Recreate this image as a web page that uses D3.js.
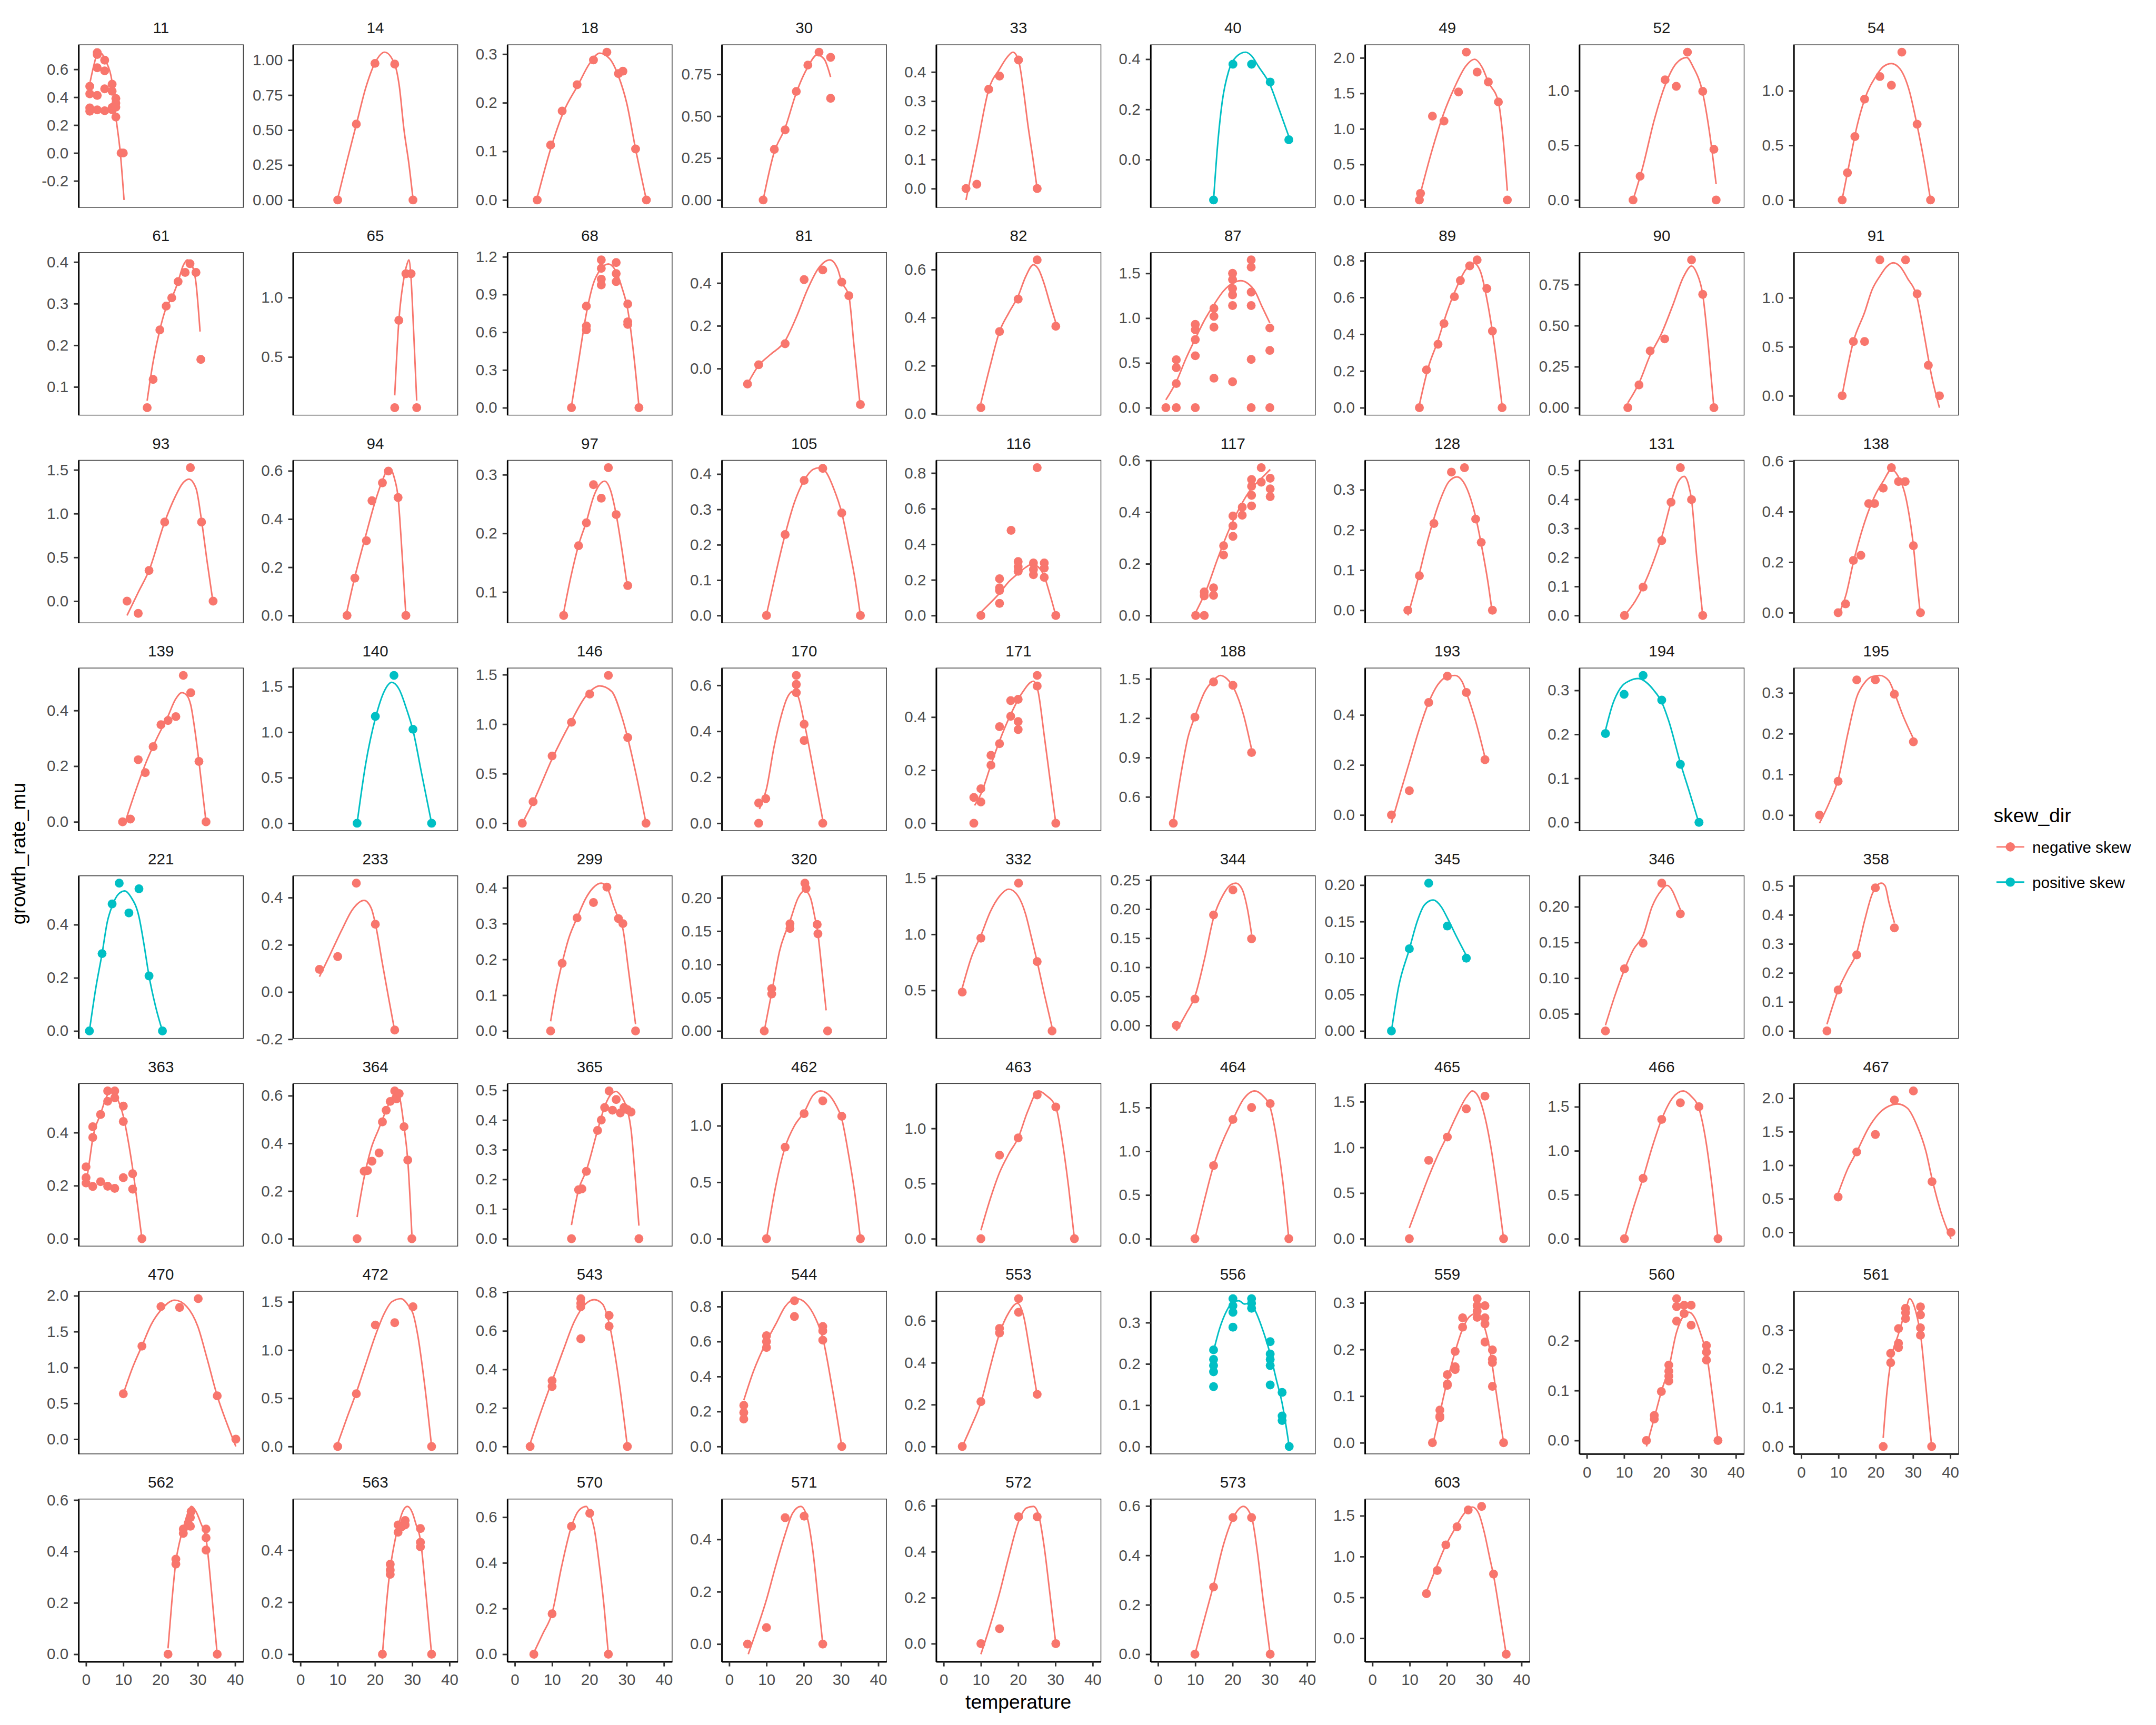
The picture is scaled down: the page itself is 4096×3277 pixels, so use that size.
<!DOCTYPE html>
<html><head><meta charset="utf-8">
<script src="https://cdn.jsdelivr.net/npm/d3@7"></script>
<style>html,body{margin:0;padding:0;background:#fff}svg{display:block}</style>
</head><body>
<script>
// ---------------- DATA ----------------
const panelIds = [11,14,18,30,33,40,49,52,54,
  61,65,68,81,82,87,89,90,91,
  93,94,97,105,116,117,128,131,138,
  139,140,146,170,171,188,193,194,195,
  221,233,299,320,332,344,345,346,358,
  363,364,365,462,463,464,465,466,467,
  470,472,543,544,553,556,559,560,561,
  562,563,570,571,572,573,603];

const positiveSkewIds = [40,140,194,221,345,556];
const skewLevels = ["negative skew","positive skew"];
const xTickValues = [0,10,20,30,40];

const panelTicks = [
  [-0.2,0,0.2,0.4,0.6],[0,0.25,0.5,0.75,1],[0,0.1,0.2,0.3],[0,0.25,0.5,0.75],[0,0.1,0.2,0.3,0.4],[0,0.2,0.4],[0,0.5,1,1.5,2],[0,0.5,1],[0,0.5,1],
  [0.1,0.2,0.3,0.4],[0.5,1],[0,0.3,0.6,0.9,1.2],[0,0.2,0.4],[0,0.2,0.4,0.6],[0,0.5,1,1.5],[0,0.2,0.4,0.6,0.8],[0,0.25,0.5,0.75],[0,0.5,1],
  [0,0.5,1,1.5],[0,0.2,0.4,0.6],[0.1,0.2,0.3],[0,0.1,0.2,0.3,0.4],[0,0.2,0.4,0.6,0.8],[0,0.2,0.4,0.6],[0,0.1,0.2,0.3],[0,0.1,0.2,0.3,0.4,0.5],[0,0.2,0.4,0.6],
  [0,0.2,0.4],[0,0.5,1,1.5],[0,0.5,1,1.5],[0,0.2,0.4,0.6],[0,0.2,0.4],[0.6,0.9,1.2,1.5],[0,0.2,0.4],[0,0.1,0.2,0.3],[0,0.1,0.2,0.3],
  [0,0.2,0.4],[-0.2,0,0.2,0.4],[0,0.1,0.2,0.3,0.4],[0,0.05,0.1,0.15,0.2],[0.5,1,1.5],[0,0.05,0.1,0.15,0.2,0.25],[0,0.05,0.1,0.15,0.2],[0.05,0.1,0.15,0.2],[0,0.1,0.2,0.3,0.4,0.5],
  [0,0.2,0.4],[0,0.2,0.4,0.6],[0,0.1,0.2,0.3,0.4,0.5],[0,0.5,1],[0,0.5,1],[0,0.5,1,1.5],[0,0.5,1,1.5],[0,0.5,1,1.5],[0,0.5,1,1.5,2],
  [0,0.5,1,1.5,2],[0,0.5,1,1.5],[0,0.2,0.4,0.6,0.8],[0,0.2,0.4,0.6,0.8],[0,0.2,0.4,0.6],[0,0.1,0.2,0.3],[0,0.1,0.2,0.3],[0,0.1,0.2],[0,0.1,0.2,0.3],
  [0,0.2,0.4,0.6],[0,0.2,0.4],[0,0.2,0.4,0.6],[0,0.2,0.4],[0,0.2,0.4,0.6],[0,0.2,0.4,0.6],[0,0.5,1,1.5]
];

const panelPoints = [
  /*11*/[[1,0.478],[1,0.424],[1,0.323],[1,0.30],[3,0.72],[3,0.706],[3,0.611],[3,0.413],[3,0.309],[5,0.666],[5,0.589],[5,0.46],[5,0.303],[7,0.493],[7,0.443],[7,0.326],[7,0.31],[8,0.39],[8,0.358],[8,0.329],[8,0.258],[9.4,0],[10,0]],
  /*14*/[[10,0],[15,0.543],[20,0.977],[25.3,0.972],[30.2,0]],
  /*18*/[[6,0],[9.6,0.113],[12.7,0.183],[16.7,0.237],[21.1,0.288],[24.7,0.304],[27.8,0.26],[29,0.265],[32.4,0.105],[35.3,0]],
  /*30*/[[9.1,0],[12.1,0.302],[15,0.418],[18,0.648],[21.1,0.805],[24.1,0.882],[27.2,0.851],[27.2,0.607]],
  /*33*/[[6,0],[8.9,0.015],[12.1,0.341],[15,0.386],[20.1,0.441],[25.1,0]],
  /*40*/[[14.9,-0.161],[20.1,0.38],[25.1,0.38],[30.1,0.309],[35.1,0.079]],
  /*49*/[[12.6,0],[12.9,0.093],[16.1,1.18],[19.2,1.11],[23.1,1.52],[25.2,2.08],[28.1,1.8],[31.1,1.66],[33.8,1.38],[36.2,0]],
  /*52*/[[12.4,0],[14.3,0.217],[21,1.1],[24,1.04],[27,1.353],[31.1,0.995],[34.1,0.464],[34.7,0]],
  /*54*/[[11,0],[12.4,0.249],[14.4,0.58],[17,0.923],[21.1,1.13],[24.2,1.05],[27,1.353],[31.1,0.693],[34.7,0]],
  /*61*/[[16.4,0.05],[18,0.118],[19.8,0.237],[21.5,0.294],[23,0.314],[24.7,0.353],[26.6,0.375],[27.9,0.396],[29.5,0.375],[30.8,0.166]],
  /*65*/[[25.3,0.073],[26.4,0.808],[28.3,1.2],[29.7,1.2],[31.2,0.073]],
  /*68*/[[15.2,0],[19.2,0.808],[19.2,0.65],[19.2,0.62],[23.2,1.175],[23.2,1.108],[23.2,1.022],[23.2,0.976],[27.2,1.154],[27.2,1.066],[27.2,1.003],[30.3,0.825],[30.3,0.683],[30.3,0.662],[33.3,0]],
  /*81*/[[4.9,-0.072],[7.9,0.018],[15,0.116],[20.1,0.416],[25.1,0.461],[30.2,0.404],[32.1,0.341],[35.2,-0.168]],
  /*82*/[[10,0.025],[15,0.342],[20,0.477],[25.1,0.64],[30.1,0.364]],
  /*87*/[[2.1,0],[4.9,0.535],[4.9,0.447],[4.9,0.27],[4.9,0],[10,0.93],[10,0.87],[10,0.76],[10,0.58],[10,0],[15,1.11],[15,1.02],[15,0.9],[15,0.33],[20,1.5],[20,1.43],[20,1.33],[20,1.26],[20,1.14],[20,0.29],[25,1.65],[25,1.57],[25,1.29],[25,1.14],[25,0.54],[25,0],[30,0.89],[30,0.64],[30,0]],
  /*89*/[[12.6,0],[14.5,0.206],[17.6,0.345],[19.2,0.458],[22,0.604],[23.6,0.692],[26.1,0.772],[28.1,0.804],[30.7,0.648],[32.2,0.417],[34.8,0]],
  /*90*/[[11,0],[14,0.139],[17,0.346],[20.9,0.419],[28.1,0.9],[31.1,0.69],[34.1,0]],
  /*91*/[[11,0],[14,0.554],[17,0.554],[21.1,1.386],[28,1.386],[31.1,1.04],[34.1,0.311],[37.1,0]],
  /*93*/[[11,0],[14,-0.14],[16.9,0.35],[21.1,0.904],[28,1.525],[31,0.904],[34.1,0]],
  /*94*/[[12.5,0],[14.6,0.155],[17.7,0.31],[19.2,0.476],[22,0.55],[23.6,0.599],[26.2,0.489],[28.3,0]],
  /*97*/[[13.1,0.06],[17.1,0.179],[19.2,0.218],[21.1,0.283],[23.2,0.26],[25.1,0.312],[27.2,0.232],[30.3,0.111]],
  /*105*/[[10,0],[15,0.229],[20.1,0.382],[25.1,0.416],[30.2,0.29],[35.2,0]],
  /*116*/[[10,0],[15,0.068],[15,0.14],[15,0.155],[15,0.206],[18.1,0.478],[20,0.248],[20,0.273],[20,0.303],[24.1,0.229],[24.1,0.258],[24.1,0.295],[25.1,0.83],[27,0.214],[27,0.266],[27,0.295],[30.1,0]],
  /*117*/[[10.1,0],[12.4,0],[12.4,0.091],[12.4,0.076],[14.9,0.107],[14.9,0.078],[17.6,0.27],[17.6,0.234],[20.1,0.385],[20.1,0.347],[20.1,0.306],[22.6,0.419],[22.6,0.388],[25.1,0.465],[25.1,0.424],[25.1,0.526],[25.1,0.5],[27.7,0.572],[27.7,0.516],[30.1,0.531],[30.1,0.49],[30.1,0.46]],
  /*128*/[[9.5,0],[12.6,0.086],[16.5,0.216],[21.2,0.344],[24.7,0.355],[27.7,0.227],[29.2,0.169],[32.2,0]],
  /*131*/[[10.1,0],[15.1,0.098],[20.1,0.258],[22.6,0.39],[25.1,0.509],[28.1,0.399],[31.1,0]],
  /*138*/[[9.9,0],[11.9,0.035],[14,0.207],[16,0.227],[18.1,0.432],[19.7,0.432],[22,0.493],[24.2,0.574],[26.1,0.519],[27.9,0.519],[30.1,0.265],[32,0]],
  /*139*/[[9.8,0],[11.9,0.01],[14,0.223],[15.9,0.177],[18,0.27],[20.1,0.349],[22,0.364],[24.1,0.378],[26.1,0.526],[28.1,0.464],[30.3,0.217],[32.2,0]],
  /*140*/[[15.2,0],[20.1,1.173],[25.1,1.623],[30.2,1.032],[35.2,0]],
  /*146*/[[2,0],[4.9,0.217],[10,0.679],[15.2,1.019],[20.1,1.304],[25.1,1.492],[30.3,0.864],[35.2,0]],
  /*170*/[[7.9,0],[7.9,0.088],[9.8,0.107],[18,0.643],[18,0.604],[18,0.568],[20.1,0.431],[20.1,0.36],[25.1,0]],
  /*171*/[[8.1,0],[8.1,0.097],[10,0.13],[10,0.08],[12.7,0.219],[12.7,0.256],[15,0.3],[15,0.364],[18,0.403],[18,0.462],[20,0.383],[20,0.353],[20,0.467],[25.1,0.557],[25.1,0.517],[30.1,0]],
  /*188*/[[4.1,0.399],[9.9,1.208],[14.9,1.476],[20.1,1.45],[25.1,0.938]],
  /*193*/[[5.1,0],[9.9,0.097],[15.1,0.45],[20.1,0.555],[25.2,0.49],[30.2,0.221]],
  /*194*/[[5,0.202],[10,0.291],[15.1,0.334],[20.1,0.278],[25.1,0.132],[30.1,0]],
  /*195*/[[4.9,0],[9.9,0.083],[14.9,0.332],[19.9,0.332],[25,0.297],[30.1,0.18]],
  /*221*/[[0.9,0],[4.3,0.291],[7,0.478],[8.9,0.556],[11.5,0.444],[14.2,0.535],[16.9,0.207],[20.5,0]],
  /*233*/[[5.1,0.096],[10,0.15],[15,0.461],[20.1,0.287],[25.3,-0.161]],
  /*299*/[[9.6,0],[12.7,0.189],[16.7,0.316],[21.1,0.359],[24.7,0.402],[27.8,0.314],[29,0.3],[32.4,0]],
  /*320*/[[9.4,0],[11.4,0.0635],[11.4,0.0556],[16.3,0.161],[16.3,0.154],[20.3,0.222],[20.6,0.214],[23.6,0.16],[23.8,0.146],[26.4,0]],
  /*332*/[[5,0.485],[10,0.966],[20.1,1.456],[25.1,0.757],[29.1,0.138]],
  /*344*/[[4.9,0],[9.9,0.0454],[14.9,0.19],[20.1,0.233],[25.1,0.149]],
  /*345*/[[5.1,0],[9.9,0.1127],[15.1,0.2026],[20.1,0.1439],[25.2,0.0998]],
  /*346*/[[5,0.026],[10.1,0.113],[15.1,0.149],[20.1,0.233],[25.1,0.19]],
  /*358*/[[6.9,0],[9.9,0.141],[14.9,0.262],[19.9,0.493],[25,0.355]],
  /*363*/[[0,0.271],[0,0.23],[0,0.21],[1.8,0.382],[1.8,0.422],[1.8,0.197],[3.9,0.468],[3.9,0.215],[5.8,0.518],[5.8,0.557],[5.8,0.198],[7.7,0.531],[7.7,0.557],[7.7,0.19],[10,0.5],[10,0.442],[10,0.23],[12.5,0.245],[12.5,0.187],[15,0]],
  /*364*/[[15.2,0],[17.1,0.283],[18,0.286],[19.2,0.325],[21.1,0.36],[22,0.49],[23,0.539],[24.1,0.576],[25.3,0.62],[25.8,0.587],[26.5,0.609],[27.8,0.47],[28.8,0.33],[29.9,0]],
  /*365*/[[15.2,0],[17.1,0.165],[18,0.168],[19.2,0.227],[22.2,0.365],[23.2,0.4],[24.1,0.442],[25.3,0.498],[26.2,0.433],[27.2,0.469],[28.3,0.424],[29.3,0.442],[30.2,0.435],[31.2,0.427],[33.3,0]],
  /*462*/[[10,0],[15,0.811],[20.1,1.107],[25.1,1.22],[30.2,1.084],[35.2,0]],
  /*463*/[[10,0],[15,0.758],[20,0.914],[25.1,1.304],[30.1,1.194],[35.1,0]],
  /*464*/[[9.9,0],[14.9,0.836],[20.1,1.364],[25.1,1.5],[30.1,1.545],[35.1,0]],
  /*465*/[[9.9,0],[15.1,0.858],[20.1,1.113],[25.2,1.422],[30.2,1.561],[35.2,0]],
  /*466*/[[10.1,0],[15.1,0.687],[20.1,1.356],[25.1,1.545],[30.1,1.5],[35.2,0]],
  /*467*/[[9.9,0.526],[14.9,1.198],[19.9,1.458],[25,1.972],[30.1,2.107],[35.1,0.755],[40.2,0]],
  /*470*/[[10,0.633],[15,1.298],[20.1,1.849],[25.1,1.837],[30.1,1.959],[35.2,0.604],[40.2,0]],
  /*472*/[[10,0],[15,0.547],[20.1,1.26],[25.3,1.284],[30.2,1.449],[35.2,0]],
  /*543*/[[4.1,0],[10,0.341],[10,0.311],[17.7,0.767],[17.7,0.743],[17.7,0.725],[17.7,0.559],[25.3,0.68],[25.3,0.624],[30.2,0]],
  /*544*/[[3.9,0.235],[3.9,0.194],[3.9,0.157],[10,0.633],[10,0.6],[10,0.566],[17.5,0.833],[17.5,0.743],[25.1,0.686],[25.1,0.661],[25.1,0.608],[30.2,0]],
  /*553*/[[5,0],[10,0.214],[15,0.542],[15,0.564],[20.1,0.706],[20.1,0.641],[25.1,0.249]],
  /*556*/[[14.9,0.234],[14.9,0.211],[14.9,0.196],[14.9,0.181],[14.9,0.145],[20.1,0.358],[20.1,0.341],[20.1,0.325],[20.1,0.289],[25.1,0.358],[25.1,0.347],[25.1,0.335],[30.1,0.254],[30.1,0.224],[30.1,0.211],[30.1,0.196],[30.1,0.149],[33.3,0.131],[33.3,0.074],[33.3,0.063],[35.2,0]],
  /*559*/[[16.1,0],[18.1,0.07],[18.1,0.054],[18.1,0.057],[20.1,0.146],[20.1,0.123],[20.1,0.126],[22.2,0.196],[22.2,0.163],[22.2,0.157],[24.2,0.268],[24.2,0.248],[28.1,0.309],[28.1,0.294],[28.1,0.282],[28.1,0.269],[30.2,0.294],[30.2,0.268],[30.2,0.255],[30.2,0.216],[32.2,0.199],[32.2,0.179],[32.2,0.172],[32.2,0.121],[35.2,0]],
  /*560*/[[16,0],[18.1,0.05],[18.1,0.043],[20,0.098],[22,0.151],[22,0.139],[22,0.129],[22,0.119],[24.1,0.284],[24.1,0.268],[24.1,0.239],[26.1,0.271],[26.1,0.254],[28,0.271],[28,0.231],[32.1,0.19],[32.1,0.177],[32.1,0.161],[35.2,0]],
  /*561*/[[22,0],[24,0.24],[24,0.216],[26.1,0.304],[26.1,0.266],[26.1,0.255],[28,0.356],[28,0.345],[28,0.33],[32,0.36],[32,0.339],[32,0.306],[32,0.287],[35,0]],
  /*562*/[[22,0],[24.1,0.37],[24.1,0.351],[26.1,0.487],[26.1,0.47],[27.4,0.509],[28,0.532],[28,0.498],[28.2,0.555],[32.2,0.487],[32.2,0.453],[32.2,0.405],[35.2,0]],
  /*563*/[[22,0],[24.1,0.346],[24.1,0.324],[24.1,0.307],[26.2,0.497],[26.2,0.469],[27.2,0.49],[28.1,0.514],[28.1,0.497],[32.2,0.483],[32.2,0.43],[32.2,0.413],[35.2,0]],
  /*570*/[[5.1,0],[10,0.177],[15.2,0.56],[20.1,0.617],[25.1,0]],
  /*571*/[[4.9,0],[10,0.063],[15,0.483],[20.1,0.489],[25.1,0]],
  /*572*/[[10,0],[15,0.065],[20.1,0.552],[25.1,0.552],[30.1,0]],
  /*573*/[[9.9,0],[14.9,0.272],[20.1,0.553],[25.1,0.553],[30.1,0]],
  /*603*/[[14.5,0.546],[17.4,0.829],[19.7,1.143],[22.7,1.364],[25.7,1.571],[29.3,1.614],[32.5,0.786],[35.9,-0.196]]
];

const panelCurves = [
  /*11*/[[1.1,0.51],[2.1,0.63],[2.9,0.705],[3.5,0.723],[4.4,0.707],[5.3,0.66],[6.9,0.523],[8,0.26],[9.2,0],[10.2,-0.337]],
  /*14*/[[10,0.01],[12.5,0.28],[15,0.54],[17.5,0.8],[20,0.98],[22.6,1.057],[25.3,0.97],[26.5,0.82],[27.8,0.5],[29.1,0.26],[30.2,0.01]],
  /*18*/[[6,0.005],[10,0.115],[13,0.18],[17,0.237],[20,0.28],[22.8,0.302],[25.5,0.29],[27.8,0.255],[30,0.2],[32.4,0.105],[35.3,0]],
  /*30*/[[9.1,0],[12,0.28],[15,0.43],[18,0.64],[21,0.79],[23.6,0.866],[25.5,0.84],[27.2,0.734]],
  /*33*/[[6,-0.039],[9,0.147],[12.1,0.34],[15,0.41],[17,0.45],[18.6,0.468],[20.1,0.44],[21.5,0.33],[22.6,0.22],[24,0.1],[25.1,0]],
  /*40*/[[14.9,-0.161],[16,0.06],[17.2,0.228],[19,0.355],[21,0.41],[23.5,0.428],[25,0.415],[27,0.37],[30,0.3],[32.5,0.2],[35.1,0.092]],
  /*49*/[[12.6,0.037],[16,0.7],[19,1.2],[22,1.58],[25,1.88],[27.4,1.98],[29.5,1.86],[31.1,1.66],[33.8,1.38],[35,0.9],[36.2,0.13]],
  /*52*/[[12.4,0],[15,0.3],[18,0.72],[21,1.05],[24,1.25],[26.8,1.304],[28.5,1.22],[31.1,0.98],[33,0.6],[34.7,0.145]],
  /*54*/[[11,0.01],[13,0.35],[15,0.68],[17,0.92],[20,1.13],[22,1.22],[24.2,1.249],[26.5,1.2],[29,1.0],[31,0.7],[33,0.35],[34.7,0]],
  /*61*/[[16.4,0.067],[18,0.16],[19.8,0.237],[21.5,0.29],[23,0.314],[24.7,0.353],[26,0.39],[27.2,0.405],[28.3,0.395],[29.5,0.35],[30.6,0.233]],
  /*65*/[[25.3,0.177],[26.4,0.8],[27.7,1.15],[28.6,1.28],[29.1,1.316],[29.6,1.2],[30.4,0.7],[31.2,0.133]],
  /*68*/[[15.2,0.013],[17,0.35],[19.2,0.75],[21,0.98],[23,1.1],[25.1,1.143],[27.2,1.08],[28.8,0.95],[30.3,0.78],[31.8,0.45],[33.3,0.013]],
  /*81*/[[4.9,-0.072],[7.9,0.015],[11,0.065],[15,0.13],[18,0.24],[21,0.37],[24,0.47],[27,0.508],[29,0.47],[30.2,0.404],[32.1,0.34],[33.5,0.104],[35.2,-0.183]],
  /*82*/[[10,0.044],[12.5,0.2],[15,0.342],[17.5,0.42],[20,0.49],[22,0.57],[24.1,0.62],[25.5,0.6],[27,0.54],[28.5,0.46],[30.1,0.379]],
  /*87*/[[2.1,0.088],[5,0.3],[7.5,0.55],[10,0.77],[12.5,0.98],[15,1.15],[17.5,1.3],[20,1.39],[22.2,1.418],[24,1.39],[26,1.3],[28,1.12],[30,0.947]],
  /*89*/[[12.6,0.016],[15,0.22],[17.5,0.36],[20,0.52],[22.5,0.65],[25,0.75],[27.2,0.787],[29,0.74],[31,0.56],[33,0.3],[34.8,0.01]],
  /*90*/[[11,0.03],[14,0.15],[17,0.32],[20,0.45],[23,0.62],[26,0.8],[28.1,0.863],[29.5,0.82],[31.1,0.69],[32.6,0.38],[34.1,0]],
  /*91*/[[11,0.01],[14,0.554],[17,0.85],[19,1.08],[21.1,1.22],[23,1.32],[24.7,1.357],[26.5,1.32],[28.5,1.2],[31.1,1.0],[33,0.62],[35,0.2],[37.1,-0.122]],
  /*93*/[[11,-0.164],[14,0.1],[16.9,0.35],[21.1,0.904],[24,1.2],[26,1.35],[27.6,1.394],[29.5,1.29],[31,0.92],[32.5,0.45],[34.1,-0.02]],
  /*94*/[[12.5,0.018],[14.6,0.16],[17.5,0.33],[20,0.47],[22,0.56],[23.8,0.613],[25.2,0.57],[26.2,0.49],[27.3,0.25],[28.3,0]],
  /*97*/[[13.1,0.065],[15,0.125],[17.1,0.18],[19.2,0.22],[21.1,0.262],[22.6,0.282],[24.1,0.289],[25.6,0.275],[27.2,0.232],[28.8,0.17],[30.3,0.105]],
  /*105*/[[10,0.003],[12.5,0.12],[15,0.229],[17.5,0.32],[20.1,0.382],[22.5,0.413],[24.2,0.418],[26,0.405],[28,0.36],[30.2,0.29],[32,0.2],[33.8,0.1],[35.2,0]],
  /*116*/[[10,0.018],[12.5,0.07],[15,0.125],[17.5,0.19],[20,0.236],[22,0.27],[23.7,0.288],[25.5,0.27],[27,0.22],[28.5,0.12],[30.1,0]],
  /*117*/[[10.1,0.012],[13,0.1],[16,0.22],[19,0.33],[22,0.42],[25,0.49],[27.7,0.53],[30.1,0.565]],
  /*128*/[[9.5,-0.013],[12,0.07],[15,0.18],[18,0.27],[20.5,0.32],[22.7,0.332],[25,0.31],[27.5,0.24],[29.5,0.15],[31,0.07],[32.2,-0.009]],
  /*131*/[[10.1,0],[13,0.05],[15.1,0.1],[18,0.19],[20.1,0.27],[22.6,0.39],[24.5,0.46],[26.1,0.479],[27.3,0.45],[28.1,0.399],[29.5,0.2],[31.1,0]],
  /*138*/[[9.9,-0.011],[12,0.07],[14,0.2],[16,0.31],[18,0.4],[20,0.47],[22,0.52],[24.2,0.566],[26,0.54],[28.3,0.44],[30.1,0.265],[31,0.13],[32,-0.011]],
  /*139*/[[10.4,-0.005],[13,0.1],[16,0.21],[19,0.3],[22,0.38],[24,0.44],[25.7,0.464],[27,0.455],[28.1,0.42],[29.2,0.33],[30.3,0.217],[32.2,0]],
  /*140*/[[15.2,0],[17.5,0.65],[20.1,1.15],[22.5,1.45],[24.5,1.547],[26.5,1.47],[28.5,1.25],[30.2,1.02],[32.5,0.55],[35.2,0]],
  /*146*/[[2,0],[5,0.22],[10,0.65],[15,1.02],[19,1.28],[22.8,1.386],[26,1.33],[28.5,1.1],[30.3,0.86],[32.5,0.5],[35.2,0]],
  /*170*/[[8.1,0.062],[10,0.15],[12,0.33],[14,0.47],[15.5,0.544],[17.1,0.574],[18.5,0.55],[20.1,0.44],[22.5,0.24],[25.1,0.014]],
  /*171*/[[8.3,0.067],[10,0.11],[12.7,0.22],[15,0.31],[18,0.41],[21,0.49],[24.1,0.535],[25.3,0.5],[27,0.33],[28.5,0.17],[30.1,0]],
  /*188*/[[4.1,0.411],[6,0.75],[8,1.05],[10,1.22],[12.5,1.4],[14.9,1.49],[16.7,1.526],[18.5,1.5],[20.5,1.42],[23,1.22],[25.1,0.964]],
  /*193*/[[5.1,-0.033],[7.5,0.09],[9.9,0.21],[12.5,0.34],[15.1,0.45],[17.5,0.52],[20,0.553],[22.2,0.558],[24,0.535],[25.2,0.49],[27.7,0.375],[30.2,0.231]],
  /*194*/[[5,0.209],[7,0.27],[9,0.305],[11.5,0.322],[13.8,0.327],[16,0.318],[18,0.3],[20,0.275],[22,0.23],[25.1,0.135],[27.5,0.07],[30.1,-0.002]],
  /*195*/[[4.9,-0.02],[7.5,0.03],[9.9,0.087],[12.5,0.2],[14.9,0.29],[17,0.325],[19,0.34],[21.1,0.343],[23.5,0.33],[25,0.3],[27.5,0.24],[30.1,0.188]],
  /*221*/[[0.9,0],[2.6,0.16],[4.3,0.291],[5.7,0.41],[7,0.47],[8.7,0.515],[10.4,0.527],[12,0.505],[14.2,0.43],[15.5,0.33],[16.9,0.207],[18.7,0.09],[20.5,0]],
  /*233*/[[5.1,0.065],[8,0.16],[11,0.26],[14,0.35],[17.1,0.388],[19,0.355],[20.1,0.29],[22,0.12],[23.6,-0.02],[25.3,-0.165]],
  /*299*/[[9.6,0.027],[11,0.11],[12.7,0.19],[14.5,0.26],[16.7,0.316],[19,0.37],[21,0.4],[23.2,0.413],[25,0.395],[26.5,0.35],[27.8,0.314],[29,0.285],[30.5,0.17],[32.4,0.019]],
  /*320*/[[9.4,0],[11.4,0.058],[13.5,0.12],[16.3,0.165],[18.5,0.2],[20.3,0.211],[21.8,0.2],[23,0.17],[23.7,0.15],[24.9,0.09],[26,0.031]],
  /*332*/[[5,0.522],[7.5,0.8],[10,0.99],[12.5,1.2],[15,1.34],[17.5,1.403],[20,1.34],[22,1.18],[23.5,0.98],[25.1,0.757],[27,0.47],[29.1,0.17]],
  /*344*/[[4.9,-0.0095],[7.5,0.02],[9.9,0.05],[12.5,0.115],[14.9,0.185],[17.5,0.225],[19.5,0.242],[20.9,0.2446],[22.5,0.235],[24,0.2],[25.1,0.157]],
  /*345*/[[5.1,0],[7,0.06],[9.9,0.112],[12,0.15],[14,0.173],[16.3,0.1795],[18.5,0.17],[20.1,0.155],[22.5,0.13],[25.2,0.1035]],
  /*346*/[[5,0.034],[7.5,0.075],[10.1,0.112],[12.5,0.14],[15.1,0.16],[17.5,0.2],[20,0.223],[21.5,0.23],[23,0.222],[24,0.21],[25.1,0.196]],
  /*358*/[[6.9,0.023],[9.9,0.14],[12.5,0.21],[14.9,0.27],[17,0.38],[19,0.47],[20.3,0.5],[21.5,0.509],[22.5,0.5],[23.5,0.445],[25,0.373]],
  /*363*/[[0.1,0.215],[1,0.3],[1.8,0.378],[3.9,0.47],[5.5,0.535],[6.6,0.556],[8.3,0.53],[10,0.462],[11.3,0.37],[12.5,0.265],[13.8,0.13],[15,0]],
  /*364*/[[15.2,0.091],[17,0.25],[19,0.38],[21,0.46],[22,0.5],[23,0.54],[24.5,0.59],[25.8,0.62],[26.8,0.58],[27.8,0.47],[28.8,0.33],[29.9,0.019]],
  /*365*/[[15.2,0.046],[17.1,0.165],[19.2,0.23],[22.2,0.365],[24.1,0.445],[25.7,0.485],[27.2,0.496],[28.3,0.485],[29.3,0.464],[30.3,0.43],[31.2,0.367],[32.2,0.224],[33.3,0.044]],
  /*462*/[[10,0],[12.5,0.47],[15,0.811],[17.5,1.0],[20.1,1.12],[22.5,1.27],[24.5,1.308],[26.5,1.28],[28.5,1.19],[30.2,1.06],[32,0.75],[33.7,0.4],[35.2,0]],
  /*463*/[[10,0.077],[12.5,0.36],[15,0.6],[17.5,0.77],[20,0.914],[22.5,1.15],[25.5,1.34],[27.5,1.3],[30.1,1.194],[32,0.85],[33.6,0.45],[35.1,0]],
  /*464*/[[9.9,0],[12.5,0.45],[14.9,0.836],[17.5,1.13],[20.1,1.364],[23,1.6],[25.9,1.69],[28,1.64],[30.1,1.5],[32,1.1],[33.5,0.65],[35.1,0]],
  /*465*/[[9.9,0.116],[12.5,0.4],[15.1,0.68],[17.6,0.92],[20.1,1.13],[22.6,1.35],[25.2,1.55],[26.8,1.618],[28.5,1.55],[30.2,1.33],[32,0.95],[33.6,0.5],[35.2,0]],
  /*466*/[[10.1,0],[12.5,0.35],[15.1,0.69],[17.6,1.05],[20.1,1.36],[23,1.6],[25.9,1.68],[28,1.62],[30.1,1.48],[32,1.1],[33.6,0.6],[35.2,0]],
  /*467*/[[9.9,0.577],[12.5,0.95],[14.9,1.2],[18,1.55],[21,1.78],[23.5,1.88],[25.9,1.913],[28.5,1.85],[31,1.6],[33.5,1.2],[35.1,0.8],[37.5,0.3],[40.2,-0.095]],
  /*470*/[[10,0.633],[12.5,1.0],[15,1.3],[17.5,1.6],[20.1,1.8],[23.8,1.939],[27,1.85],[30,1.57],[32.5,1.12],[35.2,0.604],[37.8,0.22],[40.2,-0.102]],
  /*472*/[[10,0.03],[12.5,0.3],[15,0.56],[17.5,0.85],[20.1,1.15],[22.5,1.38],[24.5,1.5],[27,1.533],[29,1.46],[30.2,1.38],[31.5,1.15],[33.3,0.65],[35.2,0]],
  /*543*/[[4.1,0.015],[7,0.18],[10,0.34],[13,0.5],[16,0.65],[19,0.74],[21.3,0.762],[23.5,0.74],[25.3,0.64],[27.8,0.36],[30.2,0]],
  /*544*/[[3.9,0.264],[6.5,0.43],[10,0.6],[12.5,0.7],[15,0.8],[18.1,0.845],[20.5,0.82],[23,0.74],[25.1,0.62],[27.5,0.35],[30.2,0]],
  /*553*/[[5,0],[7.5,0.1],[10,0.21],[12.5,0.38],[15,0.54],[17.5,0.64],[19.8,0.684],[21.5,0.62],[23,0.47],[25.1,0.245]],
  /*556*/[[14.9,0.231],[16.5,0.285],[18.5,0.33],[20.1,0.35],[21.7,0.353],[23.2,0.345],[24.5,0.347],[26,0.33],[28,0.285],[30.1,0.224],[31.8,0.16],[33.3,0.105],[35.2,0]],
  /*559*/[[16.1,-0.008],[18,0.06],[20,0.13],[22,0.19],[24,0.24],[26,0.27],[28.1,0.278],[30,0.25],[31.5,0.2],[33,0.12],[35.2,0]],
  /*560*/[[16,-0.012],[18.1,0.045],[20,0.098],[22,0.145],[24,0.215],[26,0.25],[27.4,0.257],[29,0.245],[30.5,0.215],[32.2,0.17],[33.7,0.09],[35.2,0]],
  /*561*/[[22,0.022],[23,0.14],[24,0.218],[26.1,0.29],[28,0.35],[29.1,0.381],[30.2,0.365],[31.2,0.33],[32,0.29],[33.5,0.15],[35,0]],
  /*562*/[[22,0.023],[23,0.2],[24.1,0.36],[25,0.43],[26.1,0.49],[27.2,0.545],[28.3,0.575],[29.5,0.555],[30.8,0.51],[32.2,0.45],[33.7,0.24],[35.2,0]],
  /*563*/[[22,0],[23,0.18],[24.1,0.33],[25,0.41],[26.2,0.49],[27.5,0.55],[28.7,0.568],[30,0.545],[31,0.5],[32.2,0.44],[33.7,0.23],[35.2,0]],
  /*570*/[[5.1,0.007],[7.5,0.09],[10,0.18],[12.5,0.38],[15.2,0.56],[17.2,0.63],[19.2,0.647],[20.1,0.617],[21.3,0.55],[22.6,0.4],[24,0.2],[25.1,0]],
  /*571*/[[5.1,-0.039],[7.5,0.06],[10,0.17],[12.5,0.3],[15,0.42],[17,0.5],[19.2,0.526],[20.8,0.49],[22.5,0.35],[24,0.15],[25.1,0]],
  /*572*/[[10,-0.046],[12.5,0.08],[15,0.22],[17.5,0.38],[20.1,0.53],[22.2,0.59],[24.1,0.597],[25.5,0.56],[27,0.42],[28.5,0.22],[30.1,0]],
  /*573*/[[9.9,0],[12.4,0.14],[14.9,0.28],[17.5,0.44],[20.1,0.55],[22.9,0.598],[25.1,0.555],[26.6,0.42],[28.2,0.22],[30.1,0]],
  /*603*/[[14.5,0.571],[17,0.85],[19.5,1.12],[22,1.33],[24.5,1.52],[26.8,1.607],[28.5,1.53],[30,1.3],[31.5,0.98],[32.5,0.77],[34.2,0.3],[35.9,-0.196]]
];

// ---------------- DRAWING ----------------
const SCALE = 0.91;
const NCOL = 9;
const PW = 344, PH = 339.4;
const colLeft = c => 164 + c * 447.6;
const rowTop = r => 93.5 + r * 433.7;
const skewColor = d3.scaleOrdinal().domain(skewLevels).range(["#F8766D", "#00BFC4"]);
const FONT = "'Liberation Sans', Arial, Helvetica, sans-serif";
const SMALL = 32.5, BIG = 41;
const locale = d3.formatLocale({decimal: ".", thousands: ",", grouping: [3], currency: ["", ""], minus: "-"});
function decimalsOf(v) { const s = String(v); const k = s.indexOf("."); return k < 0 ? 0 : s.length - k - 1; }

const svg = d3.select("body").append("svg")
  .attr("width", 4096).attr("height", 3277)
  .attr("font-family", FONT);
svg.append("rect").attr("width", 4096).attr("height", 3277).attr("fill", "#fff");
const root = svg.append("g").attr("transform", `scale(${SCALE})`);

// shared x scale (fixed scales for x, with 5% expansion)
const allX = panelPoints.flat().map(d => d[0]).concat(panelCurves.flat().map(d => d[0]));
const [xmin, xmax] = d3.extent(allX);
const xpad = (xmax - xmin) * 0.05;
const x = d3.scaleLinear().domain([xmin - xpad, xmax + xpad]).range([0, PW]);

panelIds.forEach((id, i) => {
  const c = i % NCOL, r = Math.floor(i / NCOL);
  const g = root.append("g").attr("transform", `translate(${colLeft(c)},${rowTop(r)})`);
  const pts = panelPoints[i], crv = panelCurves[i];
  const skew = positiveSkewIds.includes(id) ? skewLevels[1] : skewLevels[0];
  const col = skewColor(skew);
  const ys = pts.map(d => d[1]).concat(crv.map(d => d[1]));
  const [lo, hi] = d3.extent(ys);
  const pad = (hi - lo) * 0.05;
  const y = d3.scaleLinear().domain([lo - pad, hi + pad]).range([PH, 0]);

  // strip label
  g.append("text").attr("x", PW / 2).attr("y", -24)
    .attr("text-anchor", "middle").attr("font-size", SMALL).attr("fill", "#1A1A1A")
    .text(id);

  // data
  const line = d3.line().x(d => x(d[0])).y(d => y(d[1])).curve(d3.curveMonotoneX);
  g.append("path").datum(crv).attr("d", line)
    .attr("fill", "none").attr("stroke", col).attr("stroke-width", 3.2);
  g.append("g").selectAll("circle").data(pts).join("circle")
    .attr("cx", d => x(d[0])).attr("cy", d => y(d[1])).attr("r", 9.3).attr("fill", col);

  // panel border
  g.append("rect").attr("width", PW).attr("height", PH)
    .attr("fill", "none").attr("stroke", "#333333").attr("stroke-width", 1.5);

  // y axis
  const ticks = panelTicks[i];
  const dec = d3.max(ticks, decimalsOf);
  const ya = g.append("g").call(
    d3.axisLeft(y).tickValues(ticks).tickFormat(locale.format(`.${dec}f`))
      .tickSize(10).tickSizeOuter(0).tickPadding(11));
  ya.select(".domain").attr("stroke", "#000").attr("stroke-width", 3.2);
  ya.selectAll(".tick line").attr("stroke", "#333333").attr("stroke-width", 3.2);
  ya.selectAll(".tick text").attr("fill", "#4D4D4D").attr("font-size", SMALL).attr("font-family", FONT);

  // x axis on the lowest panel of each column
  if (i + NCOL >= panelIds.length) {
    const xa = g.append("g").attr("transform", `translate(0,${PH})`).call(
      d3.axisBottom(x).tickValues(xTickValues).tickFormat(locale.format("d"))
        .tickSize(10).tickSizeOuter(0).tickPadding(16));
    xa.select(".domain").attr("stroke", "#000").attr("stroke-width", 3.2);
    xa.selectAll(".tick line").attr("stroke", "#333333").attr("stroke-width", 3.2);
    xa.selectAll(".tick text").attr("fill", "#4D4D4D").attr("font-size", SMALL).attr("font-family", FONT);
  }
});

// axis titles
root.append("text").attr("x", 2126).attr("y", 3567).attr("text-anchor", "middle")
  .attr("font-size", BIG).attr("fill", "#000").text("temperature");
root.append("text").attr("transform", "translate(53,1782) rotate(-90)").attr("text-anchor", "middle")
  .attr("font-size", BIG).attr("fill", "#000").text("growth_rate_mu");

// legend
const lg = root.append("g");
lg.append("text").attr("x", 4162).attr("y", 1716).attr("font-size", BIG).attr("fill", "#000").text("skew_dir");
skewLevels.forEach((lev, k) => {
  const cy = 1768 + k * 73.5;
  lg.append("line").attr("x1", 4168).attr("x2", 4226).attr("y1", cy).attr("y2", cy)
    .attr("stroke", skewColor(lev)).attr("stroke-width", 3.2);
  lg.append("circle").attr("cx", 4197).attr("cy", cy).attr("r", 9.7).attr("fill", skewColor(lev));
  lg.append("text").attr("x", 4243).attr("y", cy + 12).attr("font-size", SMALL).attr("fill", "#000").text(lev);
});
</script>
</body></html>
